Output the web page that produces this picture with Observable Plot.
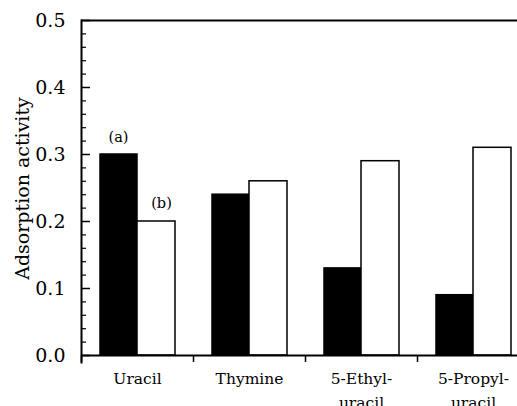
<!DOCTYPE html>
<html>
<head>
<meta charset="utf-8">
<script src="https://cdn.jsdelivr.net/npm/d3@7"></script>
<script src="https://cdn.jsdelivr.net/npm/@observablehq/plot@0.6"></script>
<style>
  html, body { margin: 0; padding: 0; background: #fff; }
  svg { display: block; }
</style>
</head>
<body>
<div id="chart"></div>
<script>
const categories = ["Uracil", "Thymine", "5-Ethyl-\nuracil", "5-Propyl-\nuracil"];
const seriesA = [0.30, 0.24, 0.13, 0.09];   // (a) black bars
const seriesB = [0.20, 0.26, 0.29, 0.31];   // (b) white bars
const yMajorTicks = [0, 0.1, 0.2, 0.3, 0.4, 0.5];
const yMinorTicks = d3.range(0, 0.5001, 0.02).filter(v => Math.abs(v * 10 - Math.round(v * 10)) > 1e-6);
const yLabel = "Adsorption activity";
const annotA = [{cat: "Uracil", value: 0.30, label: "(a)"}];
const annotB = [{cat: "Uracil", value: 0.20, label: "(b)"}];

const dataA = categories.map((c, i) => ({cat: c, value: seriesA[i]}));
const dataB = categories.map((c, i) => ({cat: c, value: seriesB[i]}));

const W = 517, H = 406, ML = 81, MT = 20;
const band = 112;
const font = "'DejaVu Serif', 'Liberation Serif', serif";

const chart = Plot.plot({
  width: W,
  height: H,
  marginLeft: ML,
  marginRight: 0,
  marginTop: MT,
  marginBottom: 44,
  style: {fontFamily: font, background: "#fff", color: "#000"},
  x: {domain: categories, range: [ML, ML + band * 4], padding: 0},
  y: {domain: [0, 0.5], range: [355, 20]},
  marks: [
    // bars
    Plot.barY(dataA, {x: "cat", y: "value", fill: "#000", stroke: "#000", strokeWidth: 1.5, insetLeft: 19, insetRight: 56}),
    Plot.barY(dataB, {x: "cat", y: "value", fill: "#fff", stroke: "#000", strokeWidth: 1.5, insetLeft: 56, insetRight: 18}),
    // frame lines
    Plot.ruleY([0], {stroke: "#000", strokeWidth: 2}),
    Plot.ruleY([0.5], {stroke: "#000", strokeWidth: 2}),
    Plot.frame({anchor: "left", stroke: "#000", strokeWidth: 2}),
    // inward y ticks
    Plot.tickY(yMajorTicks, {y: d => d, stroke: "#000", strokeWidth: 1.5, insetRight: W - ML - 9}),
    Plot.tickY(yMinorTicks, {y: d => d, stroke: "#000", strokeWidth: 1.2, insetRight: W - ML - 5}),
    // category boundary ticks (downward)
    Plot.tickX(categories, {x: d => d, dx: -band / 2, stroke: "#000", strokeWidth: 1.5, insetTop: 335}),
    // axes
    Plot.axisY(yMajorTicks, {
      tickSize: 0, tickPadding: 16, fontSize: 19,
      tickFormat: d => d.toFixed(1),
      label: null
    }),
    Plot.text([yLabel], {frameAnchor: "left", textAnchor: "middle", rotate: -90, dx: -59, dy: -3, fontSize: 19, fill: "#000"}),
    Plot.axisX({
      tickSize: 0, tickPadding: 4, fontSize: 15.5, lineHeight: 1.55, label: null
    }),
    // annotations
    Plot.text(annotA, {x: "cat", y: "value", text: "label", dx: -19, dy: -17, fontSize: 14.5, fill: "#000"}),
    Plot.text(annotB, {x: "cat", y: "value", text: "label", dx: 24, dy: -18, fontSize: 14.5, fill: "#000"})
  ]
});

document.getElementById("chart").appendChild(chart);
</script>
</body>
</html>
